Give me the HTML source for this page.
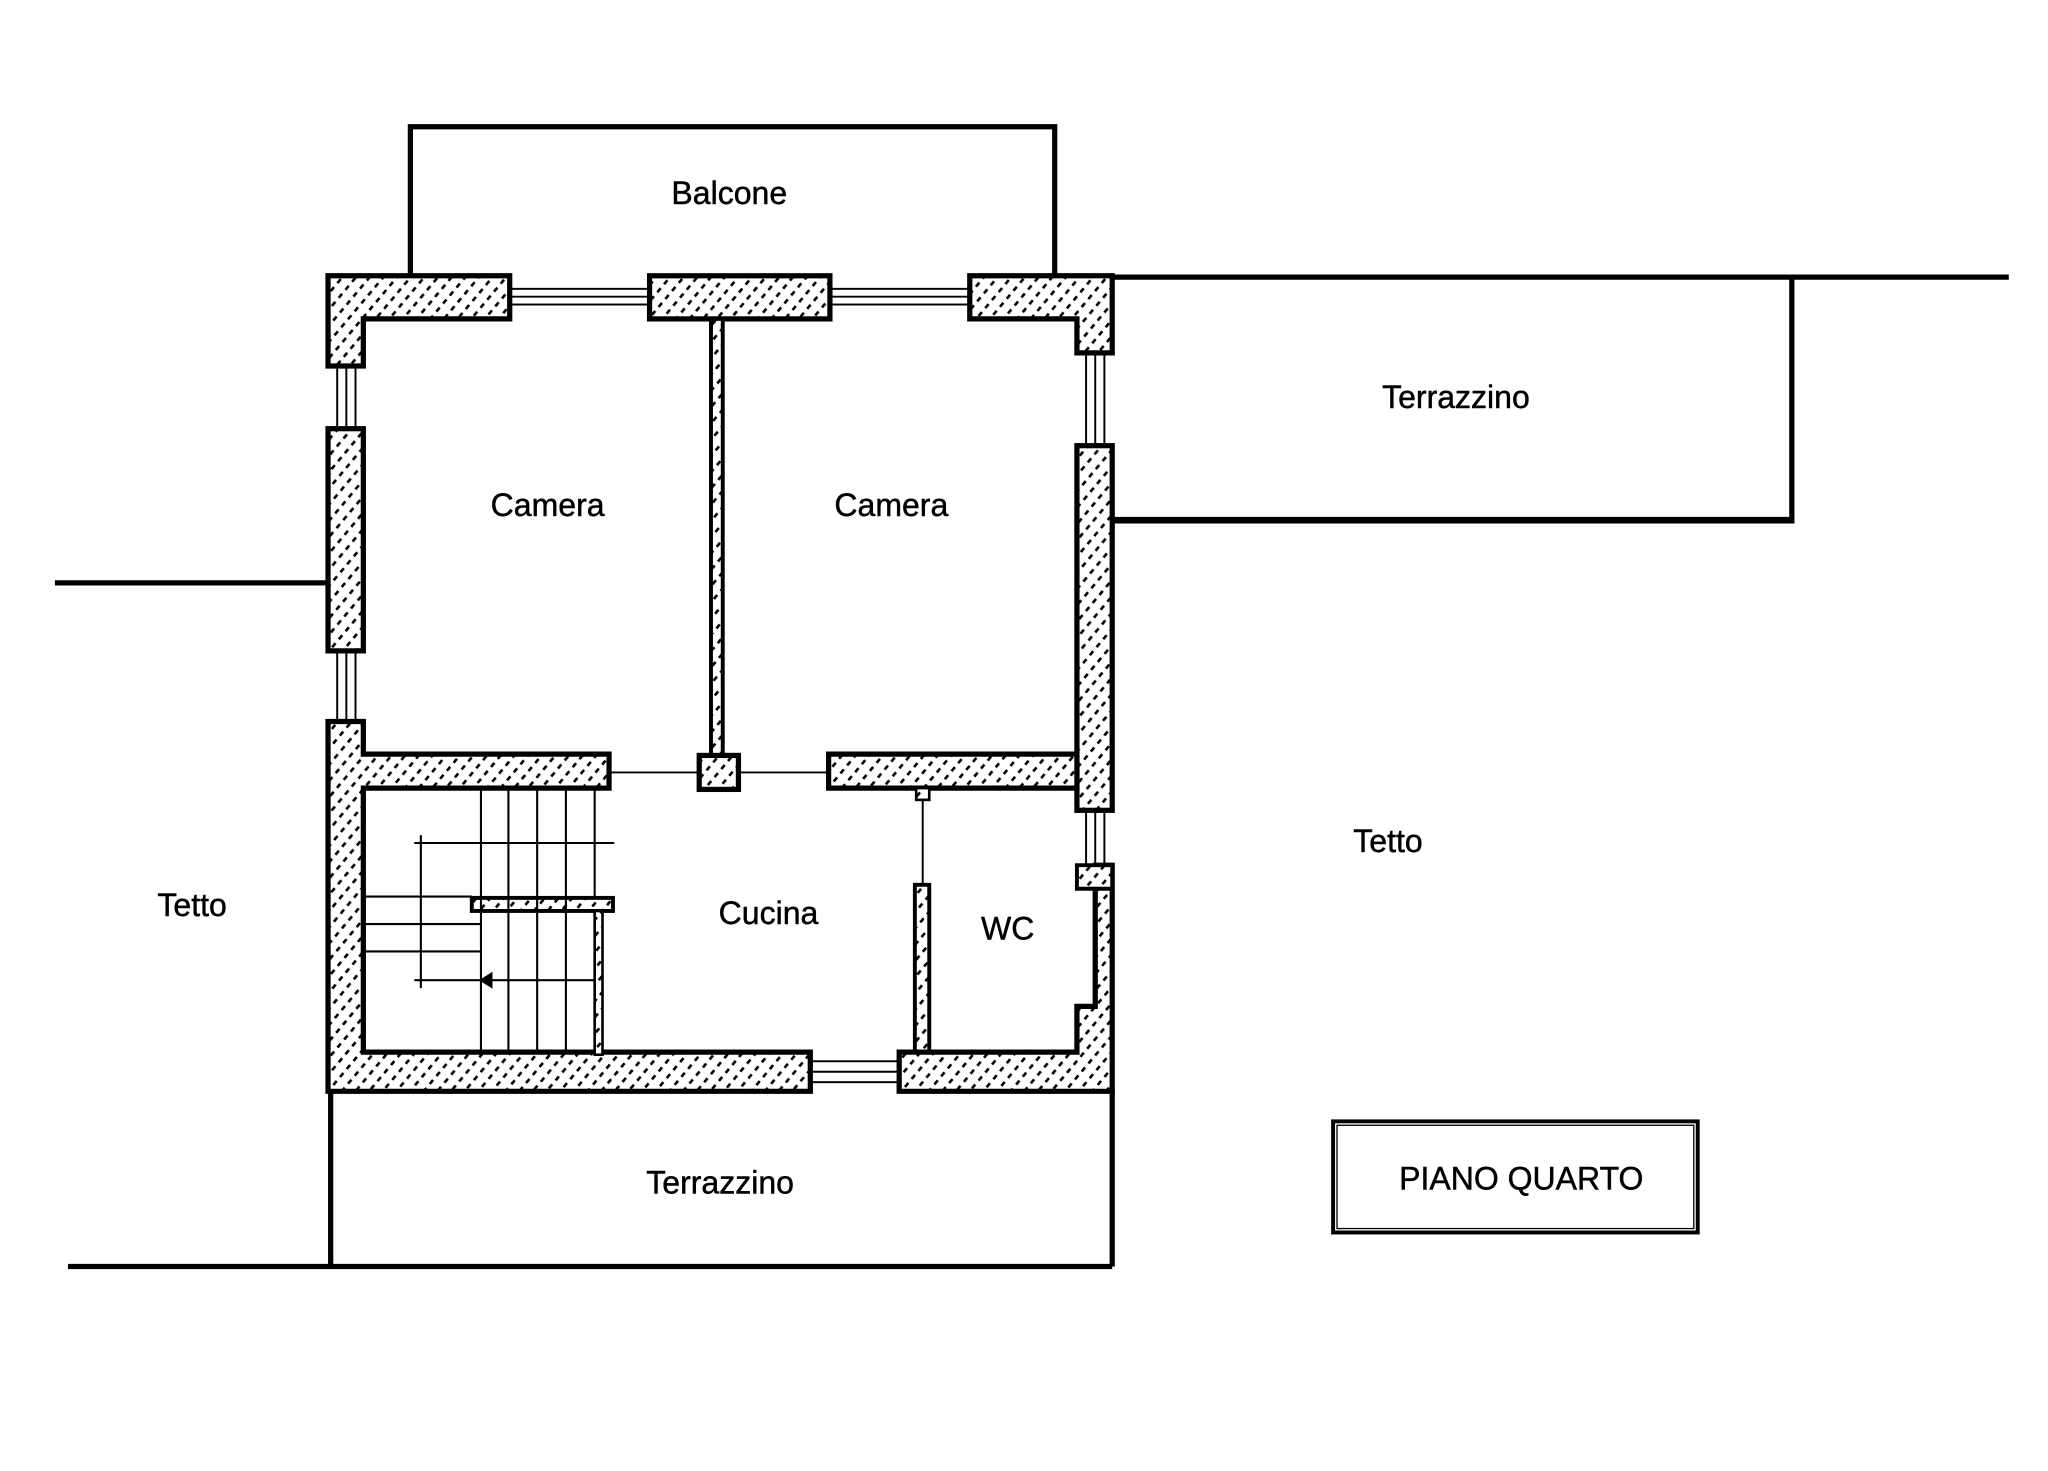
<!DOCTYPE html>
<html><head><meta charset="utf-8"><style>
html,body{margin:0;padding:0;background:#fff;}
svg{display:block;}
text{font-family:"Liberation Sans",Arial,sans-serif;fill:#000;stroke:#000;stroke-width:0.35;}
</style></head><body>
<svg width="2048" height="1471" viewBox="0 0 1567 1125.5" xmlns="http://www.w3.org/2000/svg">
<defs>
<pattern id="h" width="8" height="8" patternUnits="userSpaceOnUse" patternTransform="rotate(-50)">
<rect width="8" height="8" fill="#fff"/>
<line x1="0" y1="1" x2="8" y2="1" stroke="#000" stroke-width="2" stroke-dasharray="4 4"/>
</pattern>
</defs>
<g fill="none" stroke="#000">
<polyline points="314,212 314,97 807,97 807,212" stroke-width="4"/>
<line x1="42" y1="446" x2="251" y2="446" stroke-width="4"/>
<line x1="52" y1="969" x2="851" y2="969" stroke-width="4"/>
<line x1="851" y1="212" x2="1537" y2="212" stroke-width="4"/>
<polyline points="1371,212 1371,398" stroke-width="4"/>
<line x1="851" y1="398" x2="1373" y2="398" stroke-width="5"/>
<polyline points="253,835 253,969" stroke-width="4"/>
<polyline points="851,835 851,969" stroke-width="4"/>
<g stroke-width="1.5">
<rect x="390" y="221" width="107" height="12"/><line x1="390" y1="227" x2="497" y2="227"/>
<rect x="635" y="221" width="107" height="12"/><line x1="635" y1="227" x2="742" y2="227"/>
<rect x="258" y="280" width="14" height="48"/><line x1="265" y1="280" x2="265" y2="328"/>
<rect x="258" y="498" width="14" height="54"/><line x1="265" y1="498" x2="265" y2="552"/>
<rect x="831" y="270" width="14" height="71"/><line x1="838" y1="270" x2="838" y2="341"/>
<rect x="831" y="620" width="14" height="42"/><line x1="838" y1="620" x2="838" y2="662"/>
<rect x="620" y="812" width="68" height="16"/><line x1="620" y1="820" x2="688" y2="820"/>
<line x1="840" y1="680" x2="840" y2="772" stroke-width="3"/>
<line x1="466" y1="591" x2="535" y2="591"/>
<line x1="565" y1="591" x2="634" y2="591"/>
<line x1="706" y1="612" x2="706" y2="678"/>
</g>
</g>
<g fill="url(#h)" stroke="#000" stroke-width="4" stroke-linejoin="miter">
<path d="M251,211 H390 V244 H278 V280 H251 Z"/>
<rect x="497" y="211" width="138" height="33"/>
<path d="M742,211 H851 V270 H824 V244 H742 Z"/>
<rect x="251" y="328" width="27" height="170"/>
<rect x="824" y="341" width="27" height="279"/>
<path d="M251,552 H278 V577 H466 V603 H278 V805 H620 V835 H251 Z"/>
<path d="M634,577 H824 V603 H634 Z"/>
<rect x="544" y="244" width="9" height="334" stroke-width="3"/>
<rect x="535" y="578" width="30" height="26"/>
<rect x="701" y="603" width="10" height="9" stroke-width="2"/>
<rect x="700" y="677" width="11" height="130" stroke-width="3"/>
<path d="M688,805 H824 V770 H838 V662 H851 V835 H688 Z"/>
<path d="M824,662 H851 V680 H824 Z" stroke-width="3"/>
<rect x="361" y="687" width="108" height="10" stroke-width="3"/>
<rect x="455" y="697" width="6" height="110" stroke-width="2"/>
</g>
<g stroke="#000" stroke-width="1.6">
<line x1="368" y1="603" x2="368" y2="805"/>
<line x1="389" y1="603" x2="389" y2="805"/>
<line x1="411" y1="603" x2="411" y2="805"/>
<line x1="433" y1="603" x2="433" y2="805"/>
<line x1="455" y1="603" x2="455" y2="687"/>
<line x1="317" y1="645" x2="470" y2="645"/>
<line x1="322" y1="639" x2="322" y2="756"/>
<line x1="278" y1="686" x2="361" y2="686"/>
<line x1="278" y1="707" x2="368" y2="707"/>
<line x1="278" y1="728" x2="368" y2="728"/>
<line x1="317" y1="750" x2="455" y2="750"/>
<polygon points="368,750 376,745 376,755" fill="#000"/>
</g>
<rect x="1020" y="858" width="279" height="85" fill="none" stroke="#000" stroke-width="3"/>
<rect x="1023" y="861" width="273" height="79" fill="none" stroke="#000" stroke-width="1"/>
<g font-size="24.5" text-anchor="middle">
<text x="558" y="156">Balcone</text>
<text x="419" y="395">Camera</text>
<text x="682" y="395">Camera</text>
<text x="1114" y="312">Terrazzino</text>
<text x="1062" y="652">Tetto</text>
<text x="147" y="701">Tetto</text>
<text x="588" y="707">Cucina</text>
<text x="771" y="719">WC</text>
<text x="551" y="913">Terrazzino</text>
<text x="1164" y="910">PIANO QUARTO</text>
</g>
</svg>
</body></html>
